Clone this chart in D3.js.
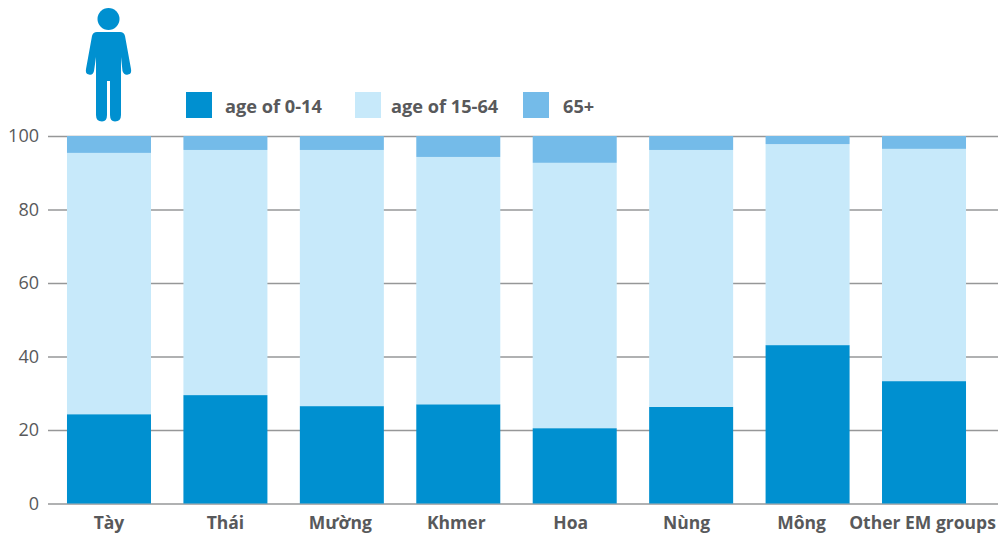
<!DOCTYPE html>
<html>
<head>
<meta charset="utf-8">
<script src="https://cdn.jsdelivr.net/npm/d3@7"></script>
<style>
	html, body { margin: 0; padding: 0; background: white; overflow: hidden; }
	text { font-family: "Open Sans", sans-serif; fill: #58595b; }
</style>
</head>
<body>
<div id="chart"></div>
<script>
const groups = ["Tày", "Thái", "Mường", "Khmer", "Hoa", "Nùng", "Mông", "Other EM groups"]
const young = [24.3, 29.5, 26.5, 27.0, 20.5, 26.3, 43.1, 33.3]
const working = [71.1, 66.7, 69.7, 67.3, 72.2, 69.9, 54.7, 63.2]
const old = [4.6, 3.8, 3.8, 5.7, 7.3, 3.8, 2.2, 3.5]
const yTicks = [0, 20, 40, 60, 80, 100]
const seriesNames = ["age of 0-14", "age of 15-64", "65+"]
const seriesColors = ["#0090d0", "#c7e9fa", "#74bbe9"]

const width = 998
const height = 537

const svg = d3.select("#chart")
	.append("svg")
	.attr("width", width)
	.attr("height", height)
	.style("display", "block")

const xScale = d3.scaleBand()
	.domain(groups)
	.range([50.8, 982.2])
	.paddingInner(0.2785)
	.paddingOuter(0.139)

const yScale = d3.scaleLinear().domain([0, 100]).range([503.5, 136])

// Gridlines sit behind the bars
const yAxis = svg.append("g")
	.attr("transform", "translate(48,0)")
	.call(d3.axisLeft(yScale).tickValues(yTicks).tickSize(-950).tickPadding(9))
yAxis.select(".domain").remove()
yAxis.selectAll("line").attr("stroke", "#969798").attr("stroke-width", 1.3)
yAxis.selectAll("text")
	.style("font-size", "18px")
	.attr("fill", null)

// Stack the bars
const rows = groups.map((g, i) => ({ group: g, young: young[i], working: working[i], old: old[i] }))
const stacked = d3.stack().keys(["young", "working", "old"])(rows)

svg.append("g")
	.selectAll("g")
	.data(stacked)
	.join("g")
	.attr("fill", (d, i) => seriesColors[i])
	.selectAll("rect")
	.data((d) => d)
	.join("rect")
	.attr("x", (d) => xScale(d.data.group))
	.attr("width", xScale.bandwidth())
	.attr("y", (d) => yScale(d[1]))
	.attr("height", (d) => yScale(d[0]) - yScale(d[1]))

// Category labels, the original ones drift left of their bars
const labelShift = [0, 0, -1.5, -2, -4, -4.5, -6, -1.5]
const xAxis = svg.append("g")
	.attr("transform", "translate(0,503.5)")
	.call(d3.axisBottom(xScale).tickSize(0).tickPadding(13))
xAxis.select(".domain").remove()
xAxis.selectAll("text")
	.attr("dx", (d, i) => labelShift[i])
	.style("font-size", "17.5px")
	.style("font-weight", "700")
	.attr("fill", null)

// Legend
const legendX = [186, 355, 523]
const legendTextX = [225, 391, 563]
seriesNames.forEach((name, i) => {
	svg.append("rect")
		.attr("x", legendX[i])
		.attr("y", 92)
		.attr("width", 26)
		.attr("height", 26)
		.attr("fill", seriesColors[i])
	svg.append("text")
		.attr("x", legendTextX[i])
		.attr("y", 113)
		.style("font-size", "18.2px")
		.style("font-weight", "700")
		.text(name)
})

// Person icon
const icon = svg.append("g").attr("fill", "#0090d0")
icon.append("circle").attr("cx", 108.5).attr("cy", 19).attr("r", 11)
icon.append("path").attr("d",
	"M97 32 H120 Q124 32 125 36 L131 69 Q132 74 128 74.5 Q124 75.5 122.5 71 L121 57 V115 Q121 121.500 115 121.500 Q110 121.500 110 115 V81 H107 V115 Q107 121.500 102 121.500 Q96 121.500 96 115 V57 L94 71 Q93 75.500 89 74.500 Q85 74 86 69 L92 36 Q93 32 97 32 Z")
</script>
</body>
</html>
